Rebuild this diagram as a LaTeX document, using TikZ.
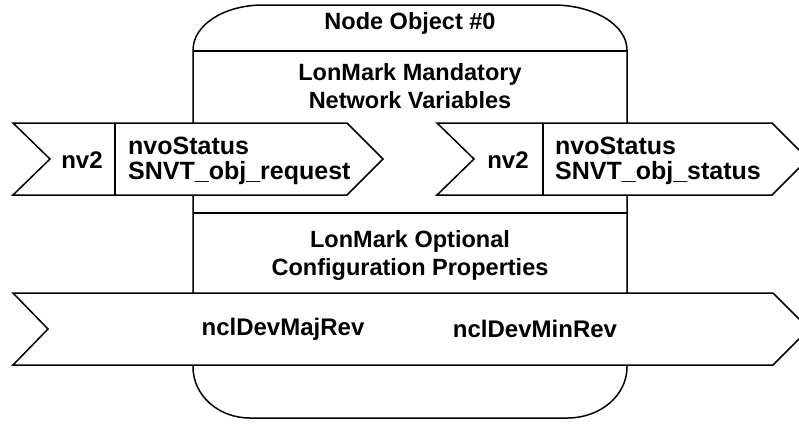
\documentclass[tikz,border=0pt]{standalone}
\usepackage{fontspec}
\setmainfont{Liberation Sans}
\usepackage{tikz}

\tikzset{
	outline/.style={draw=black, line width=1.5pt, line join=miter},
	port/.style={outline, fill=white},
	heading/.style={font=\fontsize{23.5}{28}\selectfont\bfseries, align=center, inner sep=0pt},
	tag/.style={font=\fontsize{24}{25}\selectfont\bfseries, align=left, inner sep=0pt},
	vartag/.style={tag, font=\fontsize{25}{25}\selectfont\bfseries, anchor=west}
}

\begin{document}
\begin{tikzpicture}[x=1pt, y=-1pt]
	
	\useasboundingbox (0,0) rectangle (799,424);
	\clip (0,0) rectangle (799,424);
	
	% node object frame
	\draw[outline] (193,50) .. controls (193,25) and (224,5) .. (263,5) -- (553,5)
		.. controls (594,5) and (627,25) .. (627,50) -- (627,367)
		.. controls (627,395) and (601,418) .. (567,418) -- (250,418)
		.. controls (218,418) and (193,395) .. (193,367) -- cycle;
	\draw[outline] (193,51) -- (627,51);
	\draw[outline] (193,213) -- (627,213);
	
	% network variables
	\draw[port] (13,123) -- (347,123) -- (383,159) -- (347,195) -- (13,195) -- (50,159) -- cycle;
	\draw[outline] (115,123) -- (115,195);
	\draw[port] (437,123) -- (772,123) -- (808,159) -- (772,195) -- (437,195) -- (474,159) -- cycle;
	\draw[outline] (543,123) -- (543,195);
	
	% configuration properties
	\draw[port] (13,293) -- (773,293) -- (809,329) -- (773,365) -- (13,365) -- (48,329) -- cycle;
	
	\node[heading] (obj) at (410,23)     {Node Object \#0};
	\node[heading] (mand) at (410,86)    {LonMark Mandatory\\Network Variables};
	\node[heading] (opt) at (410,255)    {LonMark Optional\\Configuration Properties};
	
	\node[tag] (nvin) at (82,160)        {nv2};
	\node[vartag] (req) at (128,161)     {nvoStatus\\SNVT\_obj\_request};
	\node[tag] (nvout) at (508,160)      {nv2};
	\node[vartag] (stat) at (555,161)    {nvoStatus\\SNVT\_obj\_status};
	
	\node[tag] (maj) at (283,329)        {nclDevMajRev};
	\node[tag] (min) at (535,329)        {nclDevMinRev};
	
\end{tikzpicture}
\end{document}
